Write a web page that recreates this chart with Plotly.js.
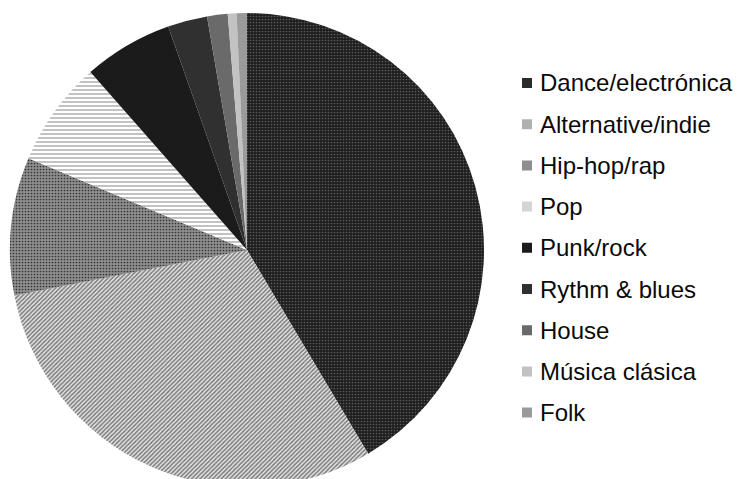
<!DOCTYPE html>
<html>
<head>
<meta charset="utf-8">
<script src="https://cdn.plot.ly/plotly-3.0.1.min.js"></script>
<style>
html, body { margin: 0; padding: 0; overflow: hidden; background: #fff; }
#chart { width: 737px; height: 495px; }
</style>
</head>
<body>
<div id="chart"></div>
<script>
// ---- data ----
var genres = ["Dance/electrónica", "Alternative/indie", "Hip-hop/rap", "Pop", "Punk/rock",
              "Rythm & blues", "House", "Música clásica", "Folk"];
var shares = [41.5, 30.5, 9.4, 7.2, 6.1, 2.7, 1.4, 0.6, 0.7];

// ---- styles ----
var fills    = ["#1e1e1e", "#e6e6e6", "#8e8e8e", "#ffffff", "#1b1b1b", "#303030", "#6a6a6a", "#c2c2c2", "#9a9a9a"];
var fgcolors = ["#5a5a5a", "#7a7a7a", "#333333", "#9a9a9a", "#1b1b1b", "#303030", "#6a6a6a", "#c2c2c2", "#9a9a9a"];
var shapes   = [".", "/", ".", "-", "", "", "", "", ""];
var psizes   = [3, 3, 3, 4, 8, 8, 8, 8, 8];
var solid    = [0.25, 0.5, 0.25, 0.3, 0.3, 0.3, 0.3, 0.3, 0.3];
var swatchColors = ["#2b2b2b", "#b0b0b0", "#8e8e8e", "#d4d4d4", "#1b1b1b", "#303030", "#6a6a6a", "#c2c2c2", "#9a9a9a"];

var W = 737, H = 495;
var legTop = 83, legStep = 41.2;

var pie = {
  type: "pie",
  labels: genres,
  values: shares,
  sort: false,
  direction: "clockwise",
  rotation: 0,
  textinfo: "none",
  hoverinfo: "label+percent",
  showlegend: false,
  domain: { x: [10 / W, 484 / W], y: [1 - 487 / H, 1 - 13 / H] },
  marker: {
    colors: fills,
    line: { width: 0 },
    pattern: { shape: shapes, fgcolor: fgcolors, bgcolor: fills, size: psizes, solidity: solid, fillmode: "replace" }
  }
};

// legend swatches drawn as square markers on a hidden axis
var swatch = {
  type: "scatter",
  mode: "markers",
  y: genres,
  x: genres.map(function () { return 0; }),
  xaxis: "x",
  yaxis: "y",
  showlegend: false,
  hoverinfo: "y",
  marker: { symbol: "square", size: 10, color: swatchColors, line: { width: 0 } }
};

var annotations = genres.map(function (g, i) {
  return {
    text: g,
    xref: "paper", yref: "paper",
    x: 538 / W, y: 1 - (legTop + i * legStep) / H,
    xanchor: "left", yanchor: "middle",
    showarrow: false,
    font: { family: "Liberation Sans, Arial, sans-serif", size: 24, color: "#0a0a0a" }
  };
});

var layout = {
  width: W, height: H,
  margin: { l: 0, r: 0, t: 0, b: 0 },
  paper_bgcolor: "#fff",
  plot_bgcolor: "rgba(0,0,0,0)",
  showlegend: false,
  xaxis: { domain: [517 / W, 537 / W], range: [-1, 1], visible: false, fixedrange: true },
  yaxis: {
    domain: [1 - (legTop + 8.5 * legStep) / H, 1 - (legTop - 0.5 * legStep) / H],
    range: [8.5, -0.5], visible: false, fixedrange: true,
    type: "category", categoryorder: "array", categoryarray: genres
  },
  annotations: annotations,
  font: { family: "Liberation Sans, Arial, sans-serif" }
};

Plotly.newPlot("chart", [pie, swatch], layout, { displayModeBar: false, staticPlot: true });
</script>
</body>
</html>
